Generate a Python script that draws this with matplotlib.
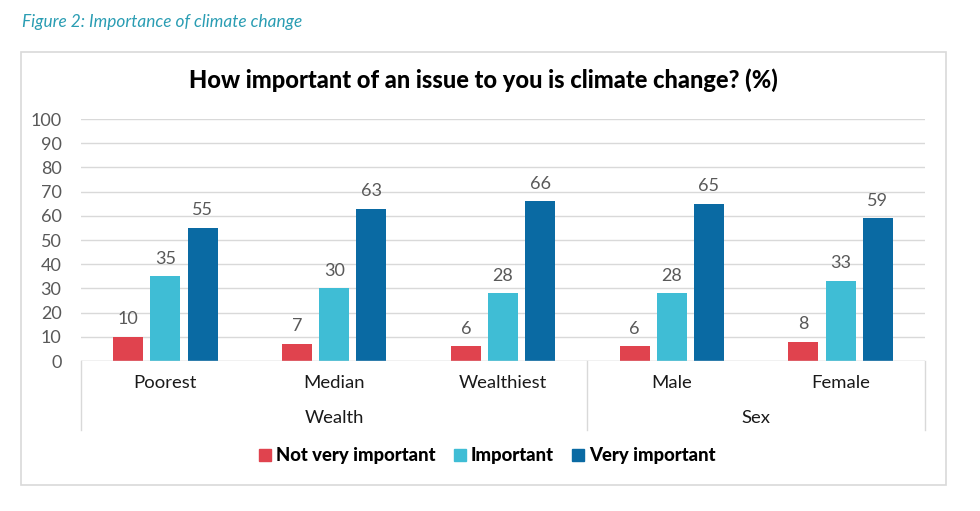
import matplotlib
matplotlib.use("Agg")
import matplotlib.pyplot as plt
from matplotlib.patches import Rectangle
from matplotlib.lines import Line2D
import numpy as np

plt.rcParams['font.family'] = ['Lato', 'DejaVu Sans']

categories = ["Poorest", "Median", "Wealthiest", "Male", "Female"]
groups = ["Wealth", "Sex"]
group_spans = [(0, 2), (3, 4)]
series_names = ["Not very important", "Important", "Very important"]
not_very = [10, 7, 6, 6, 8]
important = [35, 30, 28, 28, 33]
very = [55, 63, 66, 65, 59]
colors = ["#e0434e", "#3fbdd5", "#0a6aa3"]
yticks = list(range(0, 101, 10))

W, H = 980, 511
fig = plt.figure(figsize=(W / 100, H / 100), dpi=100)
fig.patch.set_facecolor("white")

# chart frame
fig.patches.append(Rectangle((21 / W, 1 - 485 / H), (946 - 21) / W, (485 - 52) / H,
                             transform=fig.transFigure, fill=False,
                             edgecolor="#d9d9d9", linewidth=1.2))

fig.text(22 / W, 1 - 22 / H, "Figure 2: Importance of climate change", fontsize=12.4,
         style="italic", color="#2a9db3", va="center", ha="left")
fig.text(483 / W, 1 - 80 / H, "How important of an issue to you is climate change? (%)",
         fontsize=17, fontweight="black", color="black", ha="center", va="center")

ax = fig.add_axes([81 / W, 1 - 361 / H, (925 - 81) / W, (361 - 119) / H])
x = np.arange(len(categories))
bw = 0.178
step = 0.22
for i, (vals, c) in enumerate(zip([not_very, important, very], colors)):
    pos = x + (i - 1) * step
    ax.bar(pos, vals, width=bw, color=c, zorder=3)
    for p, v in zip(pos, vals):
        ax.text(p, v + 7.3, str(v), ha="center", va="center", fontsize=13, color="#595959")

ax.set_xlim(-0.5, len(categories) - 0.5)
ax.set_ylim(0, 100)
ax.set_yticks(yticks)
ax.set_yticklabels([str(t) for t in yticks], fontsize=13, color="#595959")
ax.tick_params(axis="y", length=0, pad=14)
ax.set_xticks([])
ax.grid(axis="y", color="#d9d9d9", linewidth=1, zorder=0)
for s in ax.spines.values():
    s.set_visible(False)
ax.axhline(0, color="#d9d9d9", linewidth=1, zorder=4)

tr = ax.get_xaxis_transform()
for xs in [-0.5, 2.5, len(categories) - 0.5]:
    ax.plot([xs, xs], [0, -0.285], transform=tr, color="#d9d9d9", linewidth=1, clip_on=False)
for xi, cat in zip(x, categories):
    ax.text(xi, -0.091, cat, transform=tr, ha="center", va="center", fontsize=13.3, color="#1a1a1a")
for g, (a, b) in zip(groups, group_spans):
    ax.text((a + b) / 2, -0.236, g, transform=tr, ha="center", va="center", fontsize=13.3, color="#1a1a1a")

handles = [Line2D([], [], marker="s", linestyle="", markersize=8, color=c) for c in colors]
leg = fig.legend(handles, series_names, loc="center", bbox_to_anchor=(487 / W, 1 - 456 / H),
                 ncol=3, frameon=False, handlelength=0.7, handletextpad=0.25, columnspacing=0.95,
                 prop={"weight": "black", "size": 13.3})

fig.savefig("out.png", dpi=100, facecolor="white")
